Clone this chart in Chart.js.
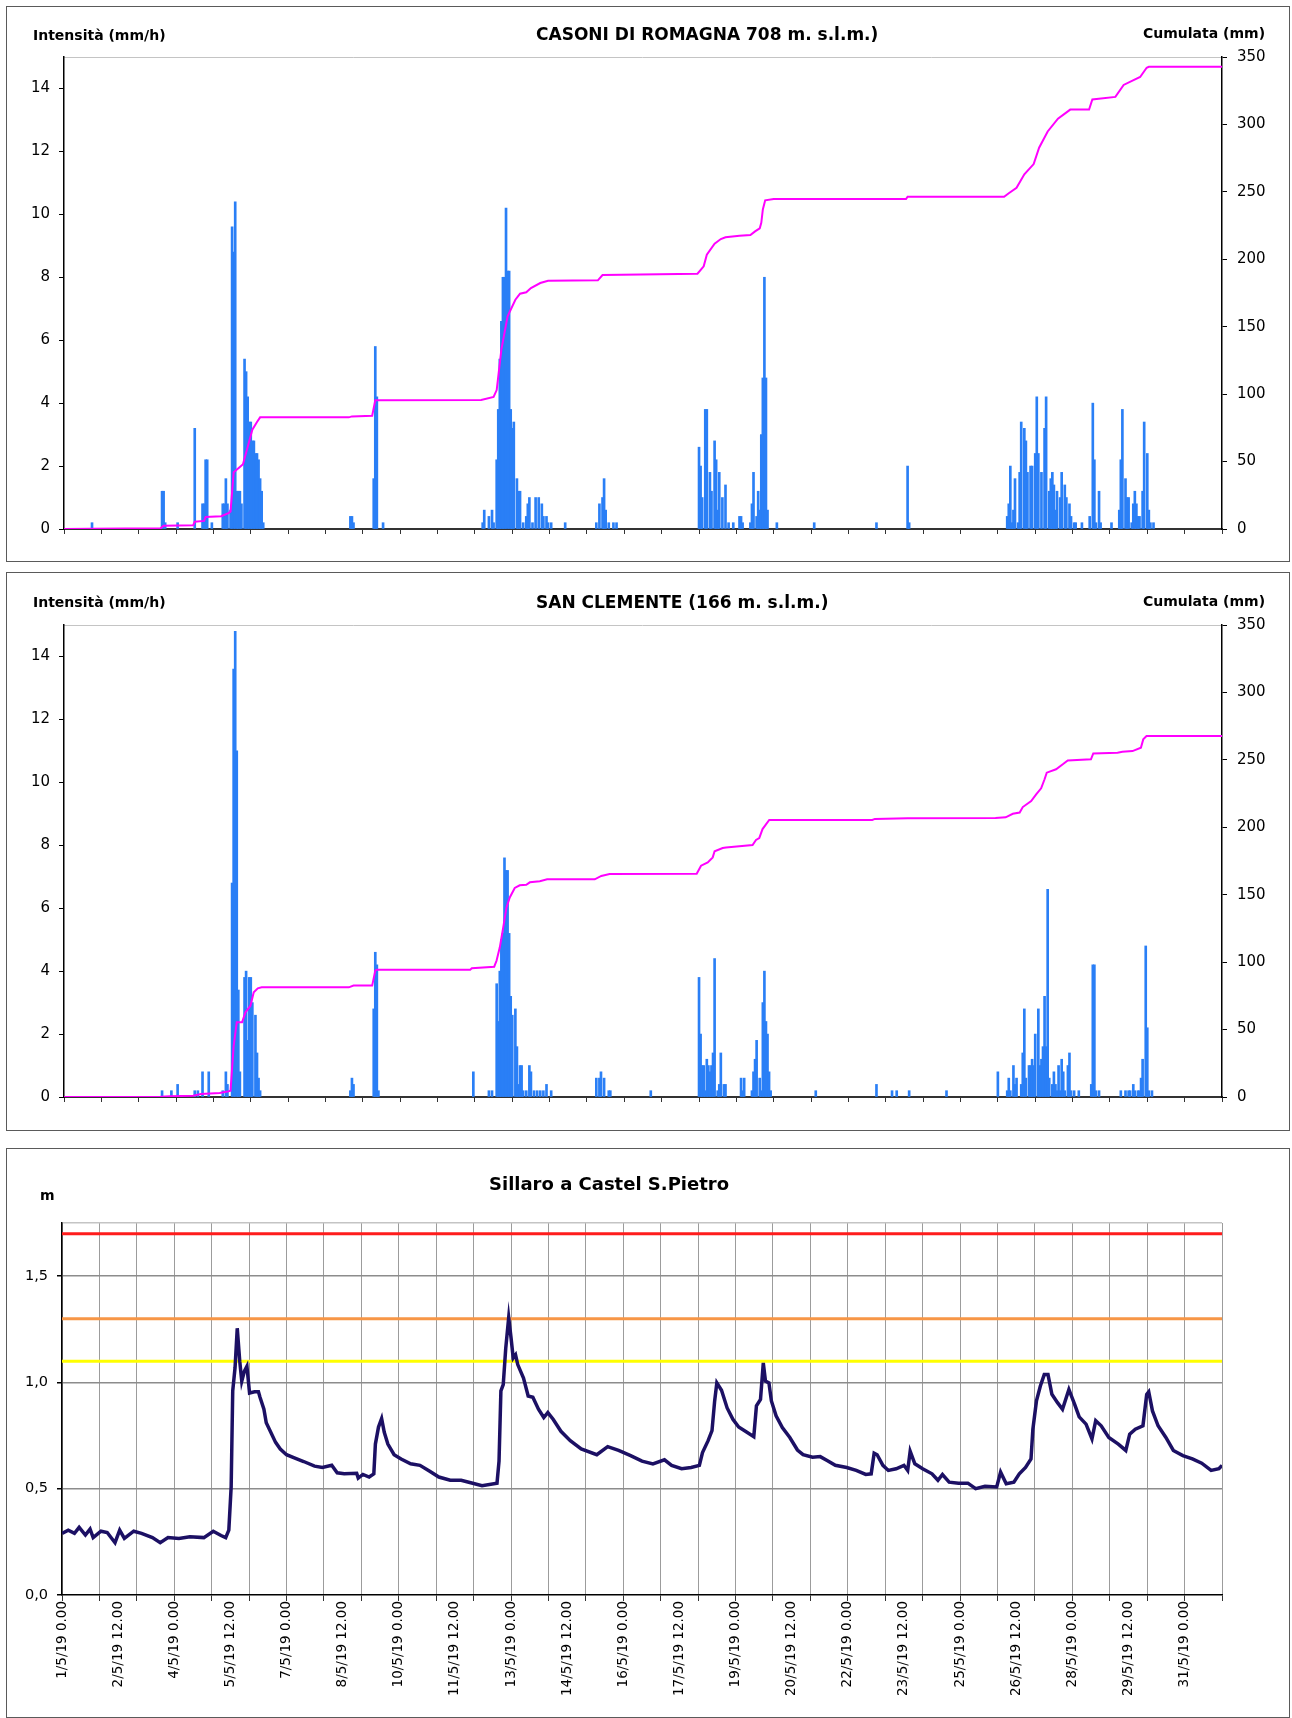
<!DOCTYPE html>
<html>
<head>
<meta charset="utf-8">
<script src="https://cdn.jsdelivr.net/npm/chart.js@4.4.1/dist/chart.umd.min.js"></script>
<style>
  body { margin: 0; width: 1292px; height: 1718px; background: #fff; position: relative; overflow: hidden; font-family: 'DejaVu Sans', sans-serif; }
  .panel { position: absolute; border: 1px solid #5a5a5a; box-sizing: border-box; }
  .panel canvas { position: absolute; left: 0; top: 0; }
  .lab { position: absolute; font-weight: bold; color: #000; white-space: nowrap; line-height: 1; transform: translateY(-50%); }
</style>
</head>
<body>
<div class="panel" style="left:6px;top:6px;width:1284px;height:556px"><canvas id="casoni" width="1282" height="554"></canvas></div>
<div class="panel" style="left:6px;top:572px;width:1284px;height:559px"><canvas id="clemente" width="1282" height="557"></canvas></div>
<div class="panel" style="left:6px;top:1148px;width:1284px;height:570px"><canvas id="sillaro" width="1282" height="568"></canvas></div>

<div class="lab" style="left:33px;top:35px;font-size:14px">Intensità (mm/h)</div>
<div class="lab" style="left:536px;top:34px;font-size:17px">CASONI DI ROMAGNA 708 m. s.l.m.)</div>
<div class="lab" style="left:1143px;top:33px;font-size:14px">Cumulata (mm)</div>
<div class="lab" style="left:33px;top:602px;font-size:14px">Intensità (mm/h)</div>
<div class="lab" style="left:536px;top:602px;font-size:17px">SAN CLEMENTE (166 m. s.l.m.)</div>
<div class="lab" style="left:1143px;top:601px;font-size:14px">Cumulata (mm)</div>
<div class="lab" style="left:489px;top:1184px;font-size:18px">Sillaro a Castel S.Pietro</div>
<div class="lab" style="left:40px;top:1195px;font-size:14px">m</div>

<script>
// hours from 1/5/19 0.00

// Casoni di Romagna: [hour, mm/h]
const casoniRain = [
  [18,0.2],[63,1.2],[64,1.2],[65,0.2],[73,0.2],[84,3.2],[89,0.8],[90,0.8],[91,2.2],[92,2.2],[95,0.2],
  [102,0.8],[103,0.8],[104,1.6],[105,0.8],[107,0.6],[108,9.6],[109,8.8],[110,10.4],[111,1.2],[112,1.2],[113,1.2],[114,0.8],
  [116,5.4],[117,5.0],[118,4.2],[119,3.4],[120,3.4],[121,2.8],[122,2.8],[123,2.4],[124,2.4],[125,2.2],[126,1.6],[127,1.2],[128,0.2],
  [184,0.4],[185,0.4],[186,0.2],[199,1.6],[200,5.8],[201,4.2],[205,0.2],
  [269,0.2],[270,0.6],[273,0.4],[275,0.6],[276,0.2],[278,2.2],[279,3.8],[280,5.4],[281,6.6],[282,8.0],[283,8.0],[284,10.2],
  [285,8.2],[286,8.2],[287,3.8],[288,3.2],[289,3.4],[291,1.6],[292,1.2],[293,1.2],[295,0.2],[297,0.4],[298,0.8],[299,1.0],
  [301,0.2],[303,1.0],[305,1.0],[307,0.8],[308,0.4],[310,0.4],[311,0.2],[313,0.2],[322,0.2],
  [342,0.2],[344,0.8],[346,1.0],[347,1.6],[348,0.6],[350,0.2],[353,0.2],[355,0.2],
  [408,2.6],[409,2.0],[410,1.0],[412,3.8],[413,3.8],[415,1.8],[416,1.2],[418,2.8],[419,2.2],[420,0.6],[421,1.8],[423,1.0],
  [425,1.4],[427,0.2],[430,0.2],[434,0.4],[435,0.4],[436,0.2],
  [441,0.2],[442,0.8],[443,1.8],[445,0.4],[446,1.2],[447,0.6],[448,3.0],[449,4.8],[450,8.0],[451,4.8],[452,0.6],[458,0.2],[482,0.2],
  [522,0.2],[542,2.0],[543,0.2],
  [606,0.4],[607,0.8],[608,2.0],[609,0.2],[610,0.6],[611,1.6],[613,0.2],[614,1.8],[615,3.4],[617,3.2],[618,2.8],[619,1.8],
  [621,2.0],[622,2.0],[624,2.4],[625,4.2],[626,2.4],[628,1.8],[630,3.2],[631,4.2],[633,1.2],[634,1.6],[635,1.8],[636,1.4],
  [637,0.6],[638,1.2],[640,1.0],[641,1.8],[643,1.4],[644,1.0],[646,0.8],[647,0.4],[649,0.2],[650,0.2],[654,0.2],
  [659,0.4],[661,4.0],[662,2.2],[663,0.2],[665,1.2],[666,0.2],[673,0.2],
  [678,0.6],[679,2.2],[680,3.8],[682,1.6],[683,1.0],[684,1.0],[686,0.2],[687,0.8],[688,1.2],[689,0.8],[690,0.4],[691,0.4],
  [693,1.2],[694,3.4],[696,2.4],[697,0.6],[698,0.2],[700,0.2]
];
// [hour, mm]
const casoniCum = [
  [0,0],[17,0.2],[62,0.5],[64,2.5],[83,2.8],[84,5.4],[90,6],[91,8.9],[101,9.5],[106,12],[107,13],[109,42],[113,46],[115,48],
  [119,65],[121,73.6],[124,79.3],[126,82.8],[183,82.8],[185,83.5],[198,84],[200,95.4],[268,95.6],[276,97.9],[278,103],
  [281,133],[285,157.7],[290,170],[293,174.5],[297,175.5],[300,178.7],[306,182.4],[311,184.1],[343,184.4],[346,188.3],
  [407,189.3],[411,194.8],[413,203.4],[418,211.6],[422,215],[425,216.3],[434,217.5],[441,218],[444,220.7],[447,223],
  [448,227],[449,237],[450.5,243.7],[456,244.7],[541,244.7],[542,246.4],[604,246.4],[607,249],[612,253],[617,263],
  [623,270.6],[626.5,282.7],[632,294.8],[638.6,304.3],[646.5,311],[658.6,311],[660.7,318.5],[675.5,320.4],[680.8,329.3],
  [691.4,335.2],[695.6,342],[697,342.7],[744,342.7]
];

// San Clemente: [hour, mm/h]
const clementeRain = [
  [63,0.2],[69,0.2],[73,0.4],[84,0.2],[86,0.2],[89,0.8],[93,0.8],[102,0.2],[104,0.8],[105,0.4],
  [108,6.8],[109,13.6],[110,14.8],[111,11.0],[112,3.4],[113,0.8],
  [116,3.8],[117,4.0],[118,1.8],[119,3.8],[120,3.8],[121,3.0],[123,2.6],[124,1.4],[125,0.6],[126,0.2],
  [184,0.2],[185,0.6],[186,0.4],[199,2.8],[200,4.6],[201,4.2],[202,0.2],[263,0.8],
  [273,0.2],[275,0.2],[278,3.6],[279,2.4],[280,4.0],[281,5.0],[282,5.2],[283,7.6],[284,7.2],[285,7.2],[286,5.2],[287,3.2],
  [288,2.6],[290,2.8],[291,1.6],[292,0.4],[293,1.0],[294,1.0],[295,0.2],[297,0.2],[299,1.0],[300,0.8],[302,0.2],[304,0.2],
  [306,0.2],[308,0.2],[310,0.4],[313,0.2],
  [342,0.6],[344,0.6],[345,0.8],[347,0.6],[350,0.2],[351,0.2],[377,0.2],
  [408,3.8],[409,2.0],[410,1.0],[411,1.0],[412,0.2],[413,1.2],[414,1.0],[415,0.8],[416,1.0],[417,1.4],[418,4.4],[420,0.2],
  [421,0.4],[422,1.4],[424,0.4],[425,0.4],[435,0.6],[436,0.2],[437,0.6],
  [442,0.2],[443,0.8],[444,1.2],[445,1.8],[447,0.6],[448,0.2],[449,3.0],[450,4.0],[451,2.4],[452,2.0],[453,0.8],[454,0.2],
  [483,0.2],[522,0.4],[532,0.2],[535,0.2],[543,0.2],[567,0.2],[600,0.8],
  [606,0.2],[607,0.6],[608,0.2],[610,1.0],[611,0.4],[612,0.6],[615,0.4],[616,1.4],[617,2.8],[618,0.6],[620,1.0],[621,1.0],
  [622,1.2],[623,1.0],[624,2.0],[626,2.8],[627,1.0],[628,1.2],[629,1.6],[630,3.2],[631,1.6],[632,6.6],[633,0.6],[635,0.4],
  [636,0.8],[637,0.4],[638,0.2],[639,1.0],[640,0.2],[641,1.2],[642,0.8],[643,0.2],[645,1.0],[646,1.4],[647,0.2],[649,0.2],[652,0.2],
  [660,0.4],[661,4.2],[662,4.2],[663,0.2],[665,0.2],
  [679,0.2],[682,0.2],[684,0.2],[685,0.2],[687,0.4],[688,0.2],[690,0.2],[691,0.2],[692,0.6],[693,1.2],[695,4.8],[696,2.2],
  [697,0.2],[699,0.2]
];
const clementeCum = [
  [0,0],[62,0.2],[68,0.5],[83,1.0],[88,2.2],[100,3.0],[105,4.0],[107,4.7],[109,38],[111,55.4],[114.4,55.4],[116.6,62.8],
  [119.8,67.7],[121.9,77.6],[124.5,80.6],[127,81.3],[183,81.3],[186,82.6],[198,82.6],[200,93.7],[201,94.4],[261,94.4],
  [262,95.4],[276.4,96.6],[277.9,101],[280,111],[282.2,125.8],[284.3,140.6],[286.4,148],[289.6,155],[292.8,157],
  [297,157.4],[299.3,159.2],[305.7,160],[310.4,161.4],[341,161.4],[345.2,163.9],[350.5,165.3],[406.5,165.6],[409.3,171.5],
  [413.6,174],[416.8,177.7],[418,182.2],[423.2,184.6],[425.3,185],[433.9,185.9],[442.4,186.9],[444.6,190.6],[446.7,192],
  [448.8,198.7],[453.1,205.4],[519.3,205.4],[521,206.2],[542,206.7],[598.5,206.9],[605,207.4],[609.6,210],[614,210.9],
  [616,215],[621.4,219.5],[624.6,224.4],[627.8,228.9],[630,235.6],[631.4,240.5],[637.4,243],[641.7,246.7],[644.9,249.6],
  [659.8,250.4],[661.3,254.8],[676.9,255.3],[680,256],[686.5,256.5],[691.9,259],[693.4,265.2],[695.5,267.7],[744,267.7]
];

// Sillaro a Castel S.Pietro: [hour, m]
const sillaroLevel = [
  [0,0.29],[4,0.305],[8,0.29],[11,0.318],[15,0.282],[18,0.31],[20,0.27],[25,0.30],[29,0.294],[34,0.246],[37,0.305],
  [40,0.266],[46,0.30],[51,0.29],[58,0.27],[63,0.246],[68,0.27],[75,0.266],[82,0.274],[91,0.27],[97,0.30],[102,0.28],
  [105,0.27],[107,0.305],[108.5,0.51],[109.5,0.96],[111,1.07],[112.4,1.255],[114,1.10],[115.3,1.006],[117,1.053],
  [118.6,1.076],[120.3,0.95],[123.5,0.956],[126,0.956],[127,0.93],[129.5,0.874],[131,0.81],[133,0.78],[137,0.718],
  [140,0.687],[144,0.66],[149,0.645],[155,0.628],[162,0.606],[167,0.60],[173,0.61],[176.5,0.575],[181,0.57],[189,0.573],
  [190,0.55],[193,0.567],[197,0.555],[200,0.57],[201,0.71],[203,0.79],[205,0.83],[206.7,0.765],[209,0.71],[213,0.66],
  [217.5,0.64],[223.6,0.617],[229.6,0.61],[235.6,0.583],[241.7,0.555],[249,0.54],[256,0.54],[263.4,0.526],[269.4,0.514],
  [279,0.526],[280.3,0.63],[281.5,0.96],[283,0.99],[284.6,1.16],[286.5,1.305],[288,1.21],[289.4,1.115],[290.9,1.13],
  [292.3,1.084],[296,1.02],[299,0.936],[302,0.93],[305.6,0.874],[309,0.835],[311.6,0.858],[315,0.827],[320,0.77],
  [326,0.726],[333,0.687],[343,0.66],[350,0.698],[357,0.68],[364.7,0.656],[372,0.63],[379,0.617],[386.4,0.636],[391,0.61],
  [397.4,0.594],[403.5,0.60],[408.8,0.61],[410.8,0.67],[414.4,0.726],[416.9,0.773],[418.6,0.913],[420,0.998],[423,0.963],
  [426.6,0.88],[430.3,0.827],[434,0.79],[438.8,0.768],[443.7,0.745],[445.4,0.89],[448,0.92],[449.8,1.092],[451.2,1.006],
  [453.4,0.998],[455,0.913],[458,0.843],[462,0.788],[466.8,0.741],[471.7,0.682],[475.3,0.66],[481.4,0.648],[486.3,0.651],
  [491,0.632],[496,0.61],[503.3,0.60],[509.4,0.586],[515.5,0.567],[519,0.57],[520.9,0.667],[522.8,0.66],[526.5,0.61],
  [530,0.586],[535,0.594],[540,0.61],[542.4,0.586],[544,0.676],[547,0.617],[552,0.594],[558,0.57],[561.8,0.54],
  [564.7,0.567],[569,0.531],[575,0.526],[581,0.526],[586,0.50],[592,0.511],[599.5,0.508],[602,0.578],[605.6,0.523],
  [610.5,0.531],[614,0.57],[618,0.60],[621.5,0.64],[622.7,0.78],[625,0.913],[627.5,0.983],[630,1.037],[632.4,1.037],
  [634.9,0.944],[638.5,0.905],[641.7,0.874],[645.8,0.967],[649.5,0.897],[652.4,0.838],[656.8,0.804],[660.6,0.734],
  [663,0.82],[666.5,0.796],[671.4,0.741],[677.5,0.71],[682.3,0.68],[684.8,0.757],[688.4,0.78],[693.3,0.796],[695.7,0.944],
  [697,0.956],[699.4,0.866],[703,0.796],[708,0.741],[712.8,0.68],[718.9,0.656],[725,0.64],[731,0.62],[737,0.586],
  [742,0.594],[744,0.61]
];
const levelThresholds = [1.7, 1.3, 1.1];

const dateLabels = ['1/5/19 0.00','2/5/19 12.00','4/5/19 0.00','5/5/19 12.00','7/5/19 0.00','8/5/19 12.00',
  '10/5/19 0.00','11/5/19 12.00','13/5/19 0.00','14/5/19 12.00','16/5/19 0.00','17/5/19 12.00','19/5/19 0.00',
  '20/5/19 12.00','22/5/19 0.00','23/5/19 12.00','25/5/19 0.00','26/5/19 12.00','28/5/19 0.00','29/5/19 12.00','31/5/19 0.00'];
const intensityTicks = [0, 2, 4, 6, 8, 10, 12, 14];
const cumulTicks = [0, 50, 100, 150, 200, 250, 300, 350];
const levelTicks = [0, 0.5, 1.0, 1.5];

const HOURS = 744;
const dayTicks = [];
for (let h = 0; h <= HOURS; h += 24) dayTicks.push(h);
const halfDayTicks = [];
for (let h = 0; h <= HOURS; h += 12) halfDayTicks.push(h);

Chart.defaults.font.family = "'DejaVu Sans', sans-serif";
Chart.defaults.color = '#000';

const toXY = arr => arr.map(p => ({ x: p[0], y: p[1] }));
const asTicks = vals => vals.map(v => ({ value: v }));

function rainChart(id, rain, cum, topPad, xHeight) {
  return new Chart(document.getElementById(id), {
    type: 'bar',
    data: {
      datasets: [
        { type: 'line', data: toXY(cum), yAxisID: 'y2', borderColor: '#ff00ff', borderWidth: 2,
          pointRadius: 0, order: 1 },
        { type: 'bar', data: toXY(rain), yAxisID: 'y', backgroundColor: '#2a7ff6', barThickness: 2, order: 2 }
      ]
    },
    options: {
      responsive: false,
      animation: false,
      layout: { padding: { top: topPad, left: 0, right: 0, bottom: 0 } },
      plugins: { legend: { display: false }, tooltip: { enabled: false } },
      scales: {
        x: {
          type: 'linear', min: 0, max: HOURS, offset: false,
          afterBuildTicks: s => { s.ticks = asTicks(dayTicks); },
          afterFit: s => { s.height = xHeight; },
          ticks: { display: false },
          grid: { offset: false, drawOnChartArea: false, tickLength: 5, tickColor: '#333' },
          border: { color: '#333', width: 2 }
        },
        y: {
          position: 'left', min: 0, max: 15,
          afterBuildTicks: s => { s.ticks = asTicks(intensityTicks); },
          afterFit: s => { s.width = 57; },
          ticks: { padding: 9, font: { size: 15 } },
          grid: { drawOnChartArea: false, tickLength: 5, tickColor: '#000' },
          border: { color: '#000', width: 1.5 }
        },
        y2: {
          position: 'right', min: 0, max: 350,
          afterBuildTicks: s => { s.ticks = asTicks(cumulTicks); },
          afterFit: s => { s.width = 67; },
          ticks: { padding: 10, font: { size: 15 } },
          grid: {
            drawOnChartArea: true,
            color: c => (c.tick && c.tick.value === 350) ? '#c4c4c4' : 'transparent',
            tickLength: 5, tickColor: '#000'
          },
          border: { color: '#000', width: 1.5 }
        }
      }
    }
  });
}

rainChart('casoni', casoniRain, casoniCum, 50, 32);
rainChart('clemente', clementeRain, clementeCum, 52, 33);

const thresholdColors = ['#ff1c1c', '#f79646', '#ffff00'];

new Chart(document.getElementById('sillaro'), {
  type: 'line',
  data: {
    datasets: [
      ...levelThresholds.map((v, i) => ({
        data: [{ x: 0, y: v }, { x: HOURS, y: v }],
        borderColor: thresholdColors[i], borderWidth: 3, pointRadius: 0, order: 2
      })),
      { data: toXY(sillaroLevel), borderColor: '#1c1064', borderWidth: 3.5, pointRadius: 0, order: 1 }
    ]
  },
  options: {
    responsive: false,
    animation: false,
    layout: { padding: { top: 74, left: 0, right: 67, bottom: 0 } },
    plugins: { legend: { display: false }, tooltip: { enabled: false } },
    scales: {
      x: {
        type: 'linear', min: 0, max: HOURS,
        afterBuildTicks: s => { s.ticks = asTicks(halfDayTicks); },
        afterFit: s => { s.height = 122; },
        ticks: {
          autoSkip: false, minRotation: 90, maxRotation: 90, padding: 0, font: { size: 13.5 },
          callback: v => (v % 36 === 0) ? dateLabels[v / 36] : ''
        },
        grid: {
          color: c => (c.tick && c.tick.value % 24 === 0) ? '#9c9c9c' : 'transparent',
          tickColor: c => (c.tick && c.tick.value % 24 === 0) ? '#333' : 'transparent',
          tickLength: 6
        },
        border: { color: '#000', width: 1.5 }
      },
      y: {
        min: 0, max: 1.75,
        afterBuildTicks: s => { s.ticks = asTicks(levelTicks.concat([1.75])); },
        afterFit: s => { s.width = 55; },
        ticks: {
          padding: 9, font: { size: 14.5 },
          callback: v => v === 1.75 ? '' : v.toFixed(1).replace('.', ',')
        },
        grid: {
          color: c => {
            const v = c.tick ? c.tick.value : null;
            if (v === 1.75) return '#c4c4c4';
            if (v === 0) return 'transparent';
            return '#8c8c8c';
          },
          lineWidth: 1.5,
          tickColor: c => (c.tick && c.tick.value === 1.75) ? 'transparent' : '#000',
          tickLength: 5
        },
        border: { color: '#000', width: 1.5 }
      }
    }
  }
});
</script>
</body>
</html>
